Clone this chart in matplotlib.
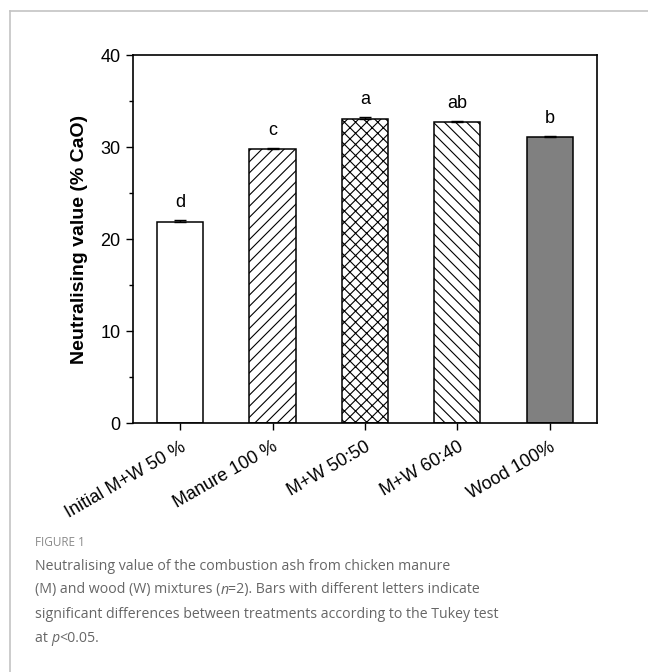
import numpy as np
import matplotlib
matplotlib.use("Agg")
import matplotlib.pyplot as plt
from matplotlib.lines import Line2D

# 数据
treatments = ["Initial M+W 50 %", "Manure 100 %", "M+W 50:50", "M+W 60:40", "Wood 100%"]
neutralising = [21.8, 29.8, 33.1, 32.7, 31.1]
std_err = [0.3, 0.06, 0.12, 0.15, 0.06]
letters = ["d", "c", "a", "ab", "b"]

hatches = ["", "///", "xxx", "\\\\\\", ""]
faces = ["white", "white", "white", "white", "#808080"]

plt.rcParams["font.family"] = ["Liberation Sans", "DejaVu Sans"]
plt.rcParams["hatch.linewidth"] = 0.8

fig = plt.figure(figsize=(6.48, 6.72), dpi=100)
ax = fig.add_axes([0.2052, 0.3705, 0.716, 0.5476])

x = np.arange(len(treatments))
ax.bar(x, neutralising, width=0.5, color=faces, edgecolor="black",
       linewidth=1.1, hatch=hatches, zorder=2)
ax.errorbar(x, neutralising, yerr=[np.zeros(len(x)), std_err], fmt="none",
            ecolor="black", elinewidth=1.0, capsize=4, capthick=1.0, zorder=3)

for xi, v, e, lab in zip(x, neutralising, std_err, letters):
    ax.text(xi, v + e + 1.9, lab, ha="center", va="center", fontsize=13)

ax.set_xlim(-0.51, 4.51)
ax.set_ylim(0, 40)
ax.set_yticks([0, 10, 20, 30, 40])
ax.set_yticks([5, 15, 25, 35], minor=True)
ax.set_xticks(x)
ax.set_xticklabels(treatments, rotation=30, ha="right", va="top",
                   rotation_mode="anchor", fontsize=13)
ax.tick_params(axis="both", which="major", direction="out", length=5,
               width=1.0, labelsize=13, pad=4)
ax.tick_params(axis="y", which="minor", direction="out", length=3, width=1.0)
ax.tick_params(axis="x", pad=6, labelsize=13)
for s in ax.spines.values():
    s.set_linewidth(1.2)
ax.set_ylabel("Neutralising value (% CaO)", fontsize=14, fontweight="bold",
              labelpad=9)

# 外框（灰色细线）
fig.add_artist(Line2D([9.5 / 648, 9.5 / 648], [0, 1 - 11 / 672],
                      transform=fig.transFigure, color="#c4c4c4", lw=1.2))
fig.add_artist(Line2D([9.5 / 648, 1], [1 - 11 / 672, 1 - 11 / 672],
                      transform=fig.transFigure, color="#c4c4c4", lw=1.2))

# 图注
cap_x = 35
fig.text(cap_x / 648, 1 - 543 / 672, "FIGURE 1", fontsize=8.5, color="#8a8a8a",
         family="Open Sans", va="center")

caption_lines = [
    [("Neutralising value of the combustion ash from chicken manure", "normal")],
    [("(M) and wood (W) mixtures (", "normal"), ("n", "italic"),
     ("=2). Bars with different letters indicate", "normal")],
    [("significant differences between treatments according to the Tukey test", "normal")],
    [("at ", "normal"), ("p", "italic"), ("<0.05.", "normal")],
]

renderer = fig.canvas.get_renderer()
for i, parts in enumerate(caption_lines):
    y_px = 566 + 24 * i
    x_px = cap_x
    for txt, style in parts:
        t = fig.text(x_px / 648, 1 - y_px / 672, txt, fontsize=10.2,
                     color="#666666", family="Open Sans", style=style,
                     va="center")
        bb = t.get_window_extent(renderer)
        x_px += bb.width

fig.savefig("out.png", dpi=100)
